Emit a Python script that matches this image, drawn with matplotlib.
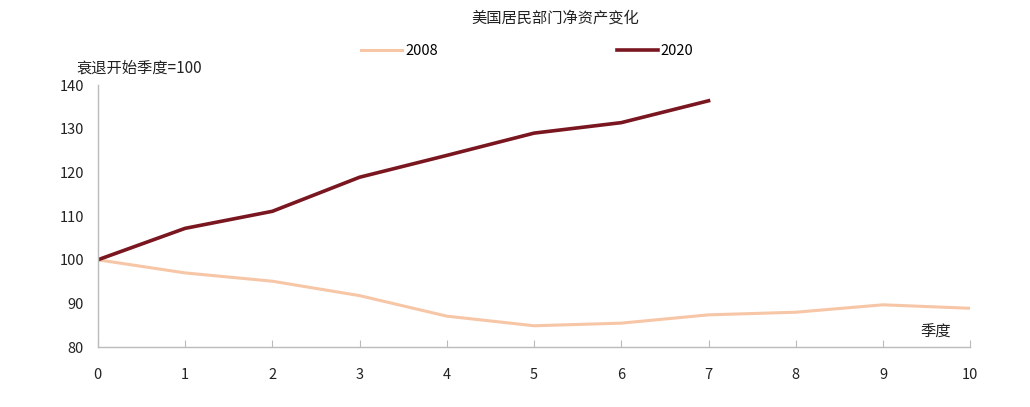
import matplotlib
matplotlib.use("Agg")
import matplotlib.pyplot as plt

plt.rcParams["font.family"] = ["Noto Sans CJK SC", "DejaVu Sans"]

quarters_2008 = [0, 1, 2, 3, 4, 5, 6, 7, 8, 9, 10]
values_2008 = [100, 97.0, 95.1, 91.8, 87.1, 84.9, 85.5, 87.4, 88.0, 89.7, 88.9]
quarters_2020 = [0, 1, 2, 3, 4, 5, 6, 7]
values_2020 = [100, 107.2, 111.1, 118.9, 123.9, 129.0, 131.4, 136.4]
x_ticks = list(range(0, 11))
y_ticks = [80, 90, 100, 110, 120, 130, 140]

fig = plt.figure(figsize=(10.30, 4.07), dpi=100)
ax = fig.add_axes([0.095, 0.147, 0.847, 0.644])

ax.plot(quarters_2008, values_2008, color="#F6C6A6", lw=2.2, label="2008")
ax.plot(quarters_2020, values_2020, color="#7A1620", lw=2.6, label="2020")

ax.set_xlim(0, 10)
ax.set_ylim(80, 140)
ax.set_xticks(x_ticks)
ax.set_yticks(y_ticks)
ax.tick_params(axis="x", direction="in", length=5, pad=15, color="#BBBBBB",
               labelsize=10.5, labelcolor="#222222")
ax.tick_params(axis="y", length=0, pad=10, labelsize=10.5, labelcolor="#222222")
for side in ["top", "right"]:
    ax.spines[side].set_visible(False)
for side in ["left", "bottom"]:
    ax.spines[side].set_color("#BBBBBB")
    ax.spines[side].set_linewidth(1.0)

fig.text(0.539, 0.955, "美国居民部门净资产变化", ha="center", va="center",
         fontsize=11, color="#222222")
fig.text(0.074, 0.832, "衰退开始季度=100", ha="left", va="center",
         fontsize=11, color="#222222")
ax.text(9.6, 83.5, "季度", ha="center", va="center", fontsize=11, color="#222222")

fig.legend(loc="center", bbox_to_anchor=(0.512, 0.875), ncol=2, frameon=False,
           fontsize=10.5, handlelength=2.8, handletextpad=0.2, columnspacing=12.3)

fig.savefig("out.png", dpi=100)
